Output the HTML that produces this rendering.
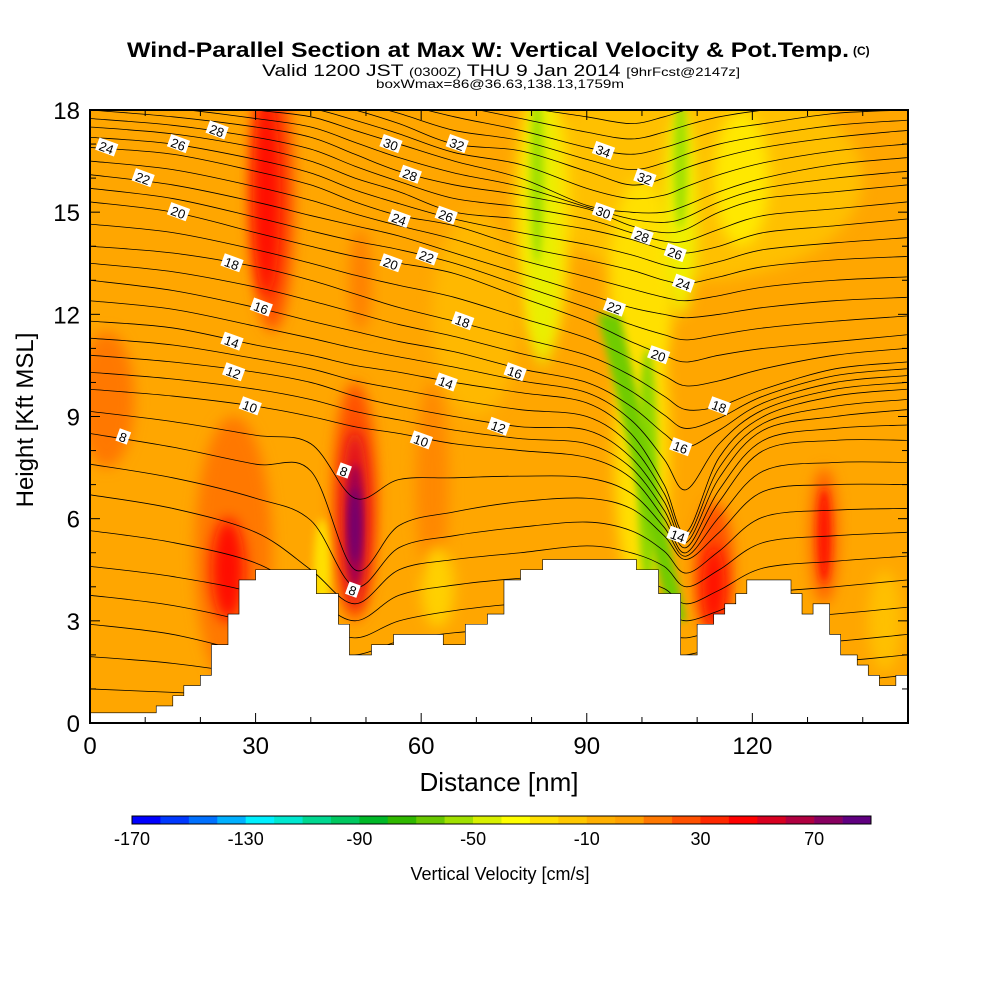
<!DOCTYPE html>
<html><head><meta charset="utf-8"><style>
html,body{margin:0;padding:0;background:#fff;}
svg{display:block;}
text{font-family:"Liberation Sans",Arial,sans-serif;}
</style></head><body>
<svg id="chart" width="1000" height="1000" viewBox="0 0 1000 1000" xmlns="http://www.w3.org/2000/svg">
<defs>
<clipPath id="plotclip"><rect x="90" y="110" width="818" height="613"/></clipPath>
<filter id="blur8" x="-50%" y="-50%" width="200%" height="200%"><feGaussianBlur stdDeviation="7"/></filter>
<filter id="blur4" x="-50%" y="-50%" width="200%" height="200%"><feGaussianBlur stdDeviation="4"/></filter>
</defs>
<text x="127" y="57" textLength="722" lengthAdjust="spacingAndGlyphs" font-size="21" font-weight="bold" style="font-family:'Liberation Sans Narrow','Liberation Sans',sans-serif">Wind-Parallel Section at Max W: Vertical Velocity &amp; Pot.Temp.</text>
<text x="853" y="55" font-size="12" font-weight="bold" style="font-family:'Liberation Sans Narrow','Liberation Sans',sans-serif">(C)</text>
<text x="262" y="76" textLength="478" lengthAdjust="spacingAndGlyphs" font-size="17" style="font-family:'Liberation Sans Narrow','Liberation Sans',sans-serif">Valid 1200 JST <tspan font-size="12">(0300Z)</tspan> THU 9 Jan 2014 <tspan font-size="12">[9hrFcst@2147z]</tspan></text>
<text x="376" y="88" textLength="248" lengthAdjust="spacingAndGlyphs" font-size="12" style="font-family:'Liberation Sans Narrow','Liberation Sans',sans-serif">boxWmax=86@36.63,138.13,1759m</text>

<g id="plot" clip-path="url(#plotclip)">
  <rect x="90" y="110" width="818" height="613" fill="#ffa600"/>
  <g id="blobs"></g>
  <g id="contours" fill="none" stroke="#000" stroke-width="0.8"></g>
  <path id="terrain" fill="#fff" stroke="#000" stroke-width="0.6"/>
  <g id="clabels"></g>
</g>
<rect x="90" y="110" width="818" height="613" fill="none" stroke="#000" stroke-width="2"/>
<g id="axes"></g>
<text x="499" y="791" text-anchor="middle" font-size="26">Distance [nm]</text>
<text transform="translate(33,420) rotate(-90)" text-anchor="middle" font-size="24">Height [Kft MSL]</text>
<g id="colorbar"></g>
<text x="500" y="880" text-anchor="middle" font-size="18">Vertical Velocity [cm/s]</text>
</svg>
<script>
// ---- data ----
const xTicks = [0,30,60,90,120];
const yTicks = [0,3,6,9,12,15,18];
const cbColors = ["#0000ff","#0038ff","#0070ff","#00b0ff","#00f0ff","#00e8d0","#00d890","#00c860","#00b828","#30b800","#68c800","#a0e000","#d8f000","#ffff00","#ffe000","#ffc800","#ffb000","#ffa000","#ff7800","#ff5000","#ff2800","#ff0000","#d80020","#b00040","#880060","#600080"];
const cbLabels = [-170,-130,-90,-50,-10,30,70];
const terrainX = [0,12,12,15,15,17,17,20,20,22,22,25,25,27,27,30,30,41,41,45,45,47,47,51,51,55,55,64,64,68,68,72,72,75,75,78,78,82,82,99,99,103,103,107,107,110,110,113,113,115,115,117,117,119,119,127,127,129,129,131,131,134,134,136,136,139,139,141,141,143,143,146,146,149];
const terrainH = [0.3,0.3,0.5,0.5,0.8,0.8,1.1,1.1,1.4,1.4,2.3,2.3,3.2,3.2,4.2,4.2,4.5,4.5,3.8,3.8,2.9,2.9,2.0,2.0,2.3,2.3,2.6,2.6,2.3,2.3,2.9,2.9,3.2,3.2,4.2,4.2,4.5,4.5,4.8,4.8,4.5,4.5,3.8,3.8,2.0,2.0,2.9,2.9,3.2,3.2,3.5,3.5,3.8,3.8,4.2,4.2,3.8,3.8,3.2,3.2,3.5,3.5,2.6,2.6,2.0,2.0,1.7,1.7,1.4,1.4,1.1,1.1,1.4,1.4];
const knots = [0,15,30,40,48,56,66,78,90,98,104,108,114,122,135,148];
const thetaLevels = [0,2,4,6,8,10,12,14,16,18,20,22,24,26,28,30,32,34,36];
const th0=[1.0,0.9,0.8,0.6,0.5,0.5,0.5,0.5,0.5,0.5,0.5,0.5,0.8,1.0,1.2,1.4];
const th2=[2.9,2.6,2.0,1.5,1.5,1.8,2.0,2.0,2.0,2.0,2.0,2.0,2.2,2.3,2.4,2.6];
const th4=[4.6,4.3,3.8,3.0,2.5,3.0,3.3,3.5,3.5,3.5,3.3,3.0,3.3,3.8,4.0,4.2];
const th6=[6.7,6.3,5.6,4.5,3.5,4.5,4.8,5.0,5.2,5.0,4.6,4.0,4.5,5.3,5.5,5.6];
const th8=[8.5,8.1,7.6,7.4,4.5,5.8,6.2,6.5,6.6,6.3,5.5,4.8,5.6,6.8,7.0,7.0];
const th10=[9.8,9.6,9.3,9.0,8.7,8.5,8.2,8.0,7.8,7.2,6.0,5.0,6.5,8.0,8.3,8.3];
const th12=[10.8,10.6,10.3,10.0,9.6,9.3,9.0,8.7,8.6,7.8,6.5,5.3,7.2,8.6,9.0,9.2];
const th14=[11.8,11.6,11.1,10.8,10.5,10.3,10.0,9.7,9.4,8.5,7.0,5.6,7.8,9.0,9.6,9.8];
const th16=[13.0,12.7,12.2,11.8,11.5,11.2,10.9,10.4,10.0,9.3,8.5,8.1,8.6,9.4,10.0,10.2];
const th18=[14.0,13.8,13.4,13.0,12.6,12.2,11.8,11.3,10.8,10.2,9.6,9.2,9.3,9.8,10.4,10.6];
const th20=[15.3,15.0,14.4,14.0,13.7,13.5,13.2,12.5,11.8,11.2,10.8,10.6,10.8,11.0,11.2,11.4];
const th22=[16.1,15.8,15.3,14.9,14.6,14.3,13.8,13.2,12.6,12.2,12.0,11.9,12.0,12.2,12.4,12.5];
const th24=[16.9,16.7,16.2,15.8,15.3,14.9,14.6,14.0,13.6,13.3,13.0,12.9,13.1,13.4,13.6,13.7];
const th26=[17.5,17.3,16.9,16.5,16.0,15.6,15.0,14.8,14.5,14.2,13.9,13.8,14.0,14.4,14.6,14.8];
const th28=[18.0,17.8,17.5,17.2,16.7,16.2,15.8,15.5,15.1,14.6,14.4,14.5,15.0,15.4,15.6,15.8];
const th30=[18.5,18.3,18.0,17.8,17.4,17.0,16.5,16.0,15.2,15.0,15.0,15.2,15.6,16.0,16.4,16.6];
const th32=[19.0,19.0,18.5,18.3,18.0,17.6,17.0,16.8,16.2,15.8,16.0,16.3,16.6,16.9,17.2,17.4];
const th34=[19.5,19.5,19.0,18.8,18.5,18.2,17.8,17.4,16.9,16.7,16.9,17.1,17.4,17.6,17.9,18.0];
const th36=[20.0,20.0,19.5,19.3,19.0,18.8,18.5,18.1,17.8,17.6,17.8,18.0,18.2,18.4,18.6,18.8];
const thetaRows=[th0,th2,th4,th6,th8,th10,th12,th14,th16,th18,th20,th22,th24,th26,th28,th30,th32,th34,th36];
const labelText=["24","26","28","22","20","18","16","14","12","10","8","8","8","30","32","28","26","24","22","20","18","14","10","16","12","34","32","30","28","26","24","22","20","18","16","14"];
const labelX=[3,16,23,9.6,16,25.7,31,25.7,26,29,6,46,47.6,54.5,66.5,58,64.5,56,61,54.5,67.5,64.5,60,77,74,93,100.5,93,100,106,107.5,95,103,114,107,106.5];
const labelY=[16.9,17.0,17.4,16.0,15.0,13.5,12.2,11.2,10.3,9.3,8.4,7.4,3.9,17.0,17.0,16.1,14.9,14.8,13.7,13.5,11.8,10.0,8.3,10.3,8.7,16.8,16.0,15.0,14.3,13.8,12.9,12.2,10.8,9.3,8.1,5.5];
// velocity blobs: center x (nm), center z (kft), radius x (nm), radius z (kft), color
const blobX=[110,82,100,118,70,3,33,32,26,25,48,48,48,48,42,62,63,49,82,107,100,101,81,107,113,113,133,133,144];
const blobZ=[16,15,13,16,12,9.5,15.5,15.5,5,4.5,6.5,6,5.8,5.8,4.5,7,4,13,14.5,15,8,7.5,16,16.5,4.5,4,5.5,5.5,3];
const blobRX=[30,5,6,5,8,5,4,2.5,7,3,4,2.5,1.6,0.9,1.5,3,3,2,3,3,5,1.8,1.2,1.2,3.5,2,2.5,1.2,3];
const blobRZ=[3,4,3,2,3,2,4,3,4,1.5,3.5,2.6,1.8,1.1,1.5,3,1.2,1.5,4,3,4.5,3.5,2.5,2,2,1.2,2,1.4,1.5];
const blobC=["#ffc000","#ffe000","#ffe000","#ffe800","#ffb800","#ff7800","#ff5000","#ff1000","#ff7800","#ff1000","#ff5000","#e01020","#a00050","#700070","#ffe000","#ff8800","#ffd000","#ff8000","#e8f000","#f0f000","#ffe000","#90d800","#a0e000","#a0e000","#ff5000","#ff1000","#ff6000","#ff1800","#ffc000"];

// ---- scales ----
const X0=90,X1=908,Y0=723,Y1=110,XMAX=148.2,YMAX=18;
const sx=v=>X0+v*(X1-X0)/XMAX;
const sy=v=>Y0-v*(Y0-Y1)/YMAX;
const NS="http://www.w3.org/2000/svg";
function mk(tag,attrs,parent){const e=document.createElementNS(NS,tag);for(const k in attrs)e.setAttribute(k,attrs[k]);parent.appendChild(e);return e;}

// blobs
const gB=document.getElementById('blobs');
for(let i=0;i<blobX.length;i++){
  const e=mk('ellipse',{cx:sx(blobX[i]),cy:sy(blobZ[i]),rx:(sx(blobRX[i])-X0),ry:(Y0-sy(blobRZ[i])),fill:blobC[i],filter:(blobRX[i]<2?'url(#blur4)':'url(#blur8)')},gB);
  
  
}
// diagonal green band
const band=mk('path',{d:`M${sx(92)},${sy(12)} L${sx(96)},${sy(12)} L${sx(108)},${sy(3)} L${sx(105)},${sy(3)} Z`,fill:'#70cc00',filter:'url(#blur4)'},gB);



// contours
function smoothPath(pts){
  let d=`M${pts[0][0]},${pts[0][1]}`;
  for(let i=0;i<pts.length-1;i++){
    const p0=pts[Math.max(0,i-1)],p1=pts[i],p2=pts[i+1],p3=pts[Math.min(pts.length-1,i+2)];
    const c1=[p1[0]+(p2[0]-p0[0])/6,p1[1]+(p2[1]-p0[1])/6];
    const c2=[p2[0]-(p3[0]-p1[0])/6,p2[1]-(p3[1]-p1[1])/6];
    d+=` C${c1[0]},${c1[1]} ${c2[0]},${c2[1]} ${p2[0]},${p2[1]}`;
  }
  return d;
}
const gC=document.getElementById('contours');
for(let r=0;r<thetaRows.length;r++){
  const row=thetaRows[r];
  const pts=knots.map((k,i)=>[sx(k),sy(row[i])]);
  const p=mk('path',{d:smoothPath(pts)},gC);
  
  
  if(r<thetaRows.length-1){
    const nx=thetaRows[r+1];
    const pts2=knots.map((k,i)=>[sx(k),sy((row[i]+nx[i])/2)]);
    const q=mk('path',{d:smoothPath(pts2)},gC);
    
    
  }
}
// terrain
let td=`M${sx(0)},${sy(0)}`;
for(let i=0;i<terrainX.length;i++)td+=` L${sx(terrainX[i])},${sy(terrainH[i])}`;
td+=` L${sx(149)},${sy(0)} Z`;
document.getElementById('terrain').setAttribute('d',td);

// contour labels
const gL=document.getElementById('clabels');
for(let i=0;i<labelText.length;i++){
  const g=mk('g',{transform:`translate(${sx(labelX[i])},${sy(labelY[i])}) rotate(20)`},gL);
  
  
  const w=labelText[i].length*8+4;
  mk('rect',{x:-w/2,y:-7,width:w,height:13,fill:'#fff'},g);
  const t=mk('text',{x:0,y:5,'text-anchor':'middle','font-size':13},g);
  t.textContent=labelText[i];
}

// axes
const gA=document.getElementById('axes');
for(let v=0;v<=140;v+=10){
  const len=(v%30===0)?10:6;
  mk('line',{x1:sx(v),x2:sx(v),y1:Y0,y2:Y0-len,stroke:'#000','stroke-width':1},gA);
  mk('line',{x1:sx(v),x2:sx(v),y1:Y1,y2:Y1+len,stroke:'#000','stroke-width':1},gA);
}
for(let v=0;v<=18;v+=1){
  const len=(v%3===0)?10:6;
  mk('line',{x1:X0,x2:X0+len,y1:sy(v),y2:sy(v),stroke:'#000','stroke-width':1},gA);
  mk('line',{x1:X1,x2:X1-len,y1:sy(v),y2:sy(v),stroke:'#000','stroke-width':1},gA);
}
xTicks.forEach(v=>{
  const t=mk('text',{x:sx(v),y:754,'text-anchor':'middle','font-size':24},gA);
  
  
  t.textContent=v;
});
yTicks.forEach(v=>{
  const t=mk('text',{x:80,y:sy(v)+9,'text-anchor':'end','font-size':24},gA);
  
  
  t.textContent=v;
});

// colorbar
const gCB=document.getElementById('colorbar');
const cbX0=132,cbX1=871,cbY=816,cbH=8;
const cw=(cbX1-cbX0)/cbColors.length;
cbColors.forEach((c,i)=>{
  const r=mk('rect',{x:cbX0+i*cw,y:cbY,width:cw+0.3,height:cbH,fill:c},gCB);
  
  
});
mk('rect',{x:cbX0,y:cbY,width:cbX1-cbX0,height:cbH,fill:'none',stroke:'#000','stroke-width':1},gCB);
const cbV=v=>cbX0+(v+170)/10*cw;
cbLabels.forEach(v=>{
  const t=mk('text',{x:cbV(v),y:845,'text-anchor':'middle','font-size':18},gCB);
  
  
  t.textContent=v;
});
</script>
</body></html>
